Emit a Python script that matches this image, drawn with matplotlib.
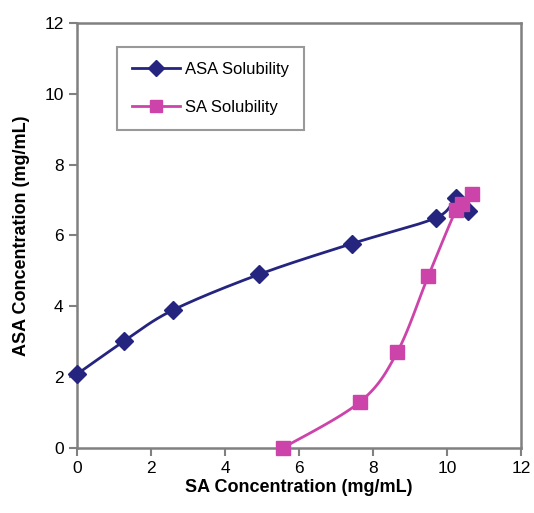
import numpy as np
import matplotlib.pyplot as plt

plt.rcParams['font.family'] = ['Liberation Sans', 'DejaVu Sans']

asa_x = [0, 1.27, 2.59, 4.92, 7.43, 9.70, 10.24, 10.57]
asa_y = [2.08, 3.01, 3.89, 4.90, 5.77, 6.50, 7.05, 6.70]
sa_x = [5.57, 7.65, 8.65, 9.49, 10.24, 10.41, 10.68]
sa_y = [0.0, 1.30, 2.70, 4.85, 6.72, 6.88, 7.18]

asa_color = '#25257f'
sa_color = '#cc44aa'


def smooth(x, y, n=20):
    # excel-like smoothed line (catmull-rom through the points)
    p = np.column_stack([x, y]).astype(float)
    p = np.vstack([p[0], p, p[-1]])
    out = []
    for i in range(1, len(p) - 2):
        p0, p1, p2, p3 = p[i - 1], p[i], p[i + 1], p[i + 2]
        t = np.linspace(0, 1, n)[:, None]
        seg = 0.5 * ((2 * p1) + (-p0 + p2) * t +
                     (2 * p0 - 5 * p1 + 4 * p2 - p3) * t ** 2 +
                     (-p0 + 3 * p1 - 3 * p2 + p3) * t ** 3)
        out.append(seg)
    out = np.vstack(out)
    return out[:, 0], out[:, 1]


fig = plt.figure(figsize=(5.34, 5.13), dpi=100)
ax = fig.add_axes([0.144, 0.127, 0.832, 0.828])

sx, sy = smooth(asa_x, asa_y)
ax.plot(sx, sy, color=asa_color, lw=2, clip_on=False)
ax.plot(asa_x, asa_y, 'D', color=asa_color, ms=9, mec=asa_color, clip_on=False, zorder=3)
sx, sy = smooth(sa_x, sa_y)
ax.plot(sx, sy, color=sa_color, lw=2, clip_on=False)
ax.plot(sa_x, sa_y, 's', color=sa_color, ms=10, mec=sa_color, clip_on=False, zorder=3)

# legend handles
ax.plot([], [], '-D', color=asa_color, ms=8, lw=2, label='ASA Solubility')
ax.plot([], [], '-s', color=sa_color, ms=8, lw=2, label='SA Solubility')
h, l = ax.get_legend_handles_labels()
leg = ax.legend(h, l, loc='upper left', bbox_to_anchor=(0.09, 0.944),
                fontsize=12, frameon=True, fancybox=False, edgecolor='#808080',
                labelspacing=1.4, borderpad=0.9, handlelength=2.9,
                handletextpad=0.3, borderaxespad=0)
leg.get_frame().set_linewidth(1.5)

ax.set_xlim(0, 12)
ax.set_ylim(0, 12)
ax.set_xticks(range(0, 13, 2))
ax.set_yticks(range(0, 13, 2))
for s in ax.spines.values():
    s.set_color('#808080')
    s.set_linewidth(1.8)
ax.tick_params(direction='out', length=6, width=1.5, color='#808080',
               labelsize=12.5, labelcolor='black')
ax.set_xlabel('SA Concentration (mg/mL)', fontsize=13, fontweight='bold', labelpad=2)
ax.set_ylabel('ASA Concentration (mg/mL)', fontsize=13, fontweight='bold', labelpad=10)

fig.savefig('out.png', dpi=100)
